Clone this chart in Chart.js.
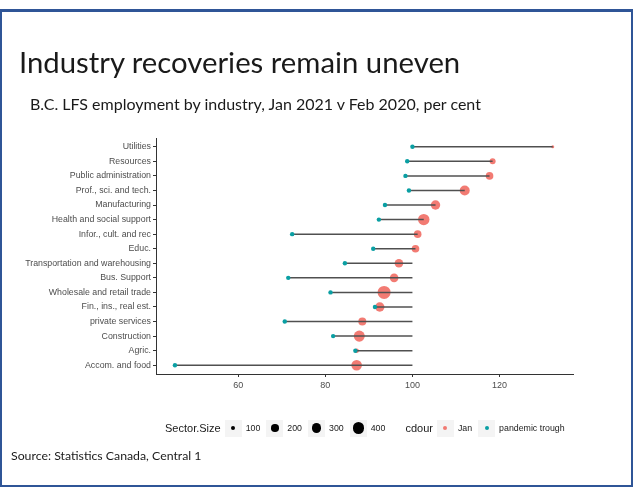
<!DOCTYPE html>
<html>
<head>
<meta charset="utf-8">
<script src="https://cdn.jsdelivr.net/npm/chart.js@4"></script>
<style>
  html, body { margin:0; padding:0; background:#fff; }
  #wrap { position:relative; width:633px; height:487px; overflow:hidden; background:#fff; }
  #frame { position:absolute; left:0; top:9px; width:633px; height:478px; box-sizing:border-box; border:2px solid #2f5597; border-top-width:3px; }
  #c { position:absolute; left:0; top:0; }
  .txt { position:absolute; white-space:nowrap; color:#1a1a1a; }
  #title { left:19px; top:44px; font-family:"Lato","Open Sans",sans-serif; font-size:29.3px; font-weight:400; }
  #sub { left:30px; top:94px; font-family:"Lato","Open Sans",sans-serif; font-size:16px; }
  #src { left:11px; top:448px; font-family:"Lato","Open Sans",sans-serif; font-size:12.3px; }
  #legend { position:absolute; left:165px; top:419px; height:18px; display:flex; align-items:center; font-family:"Liberation Sans",Arial,sans-serif; color:#1a1a1a; }
  #legend .ttl { font-size:11px; margin-right:4px; }
  #legend .key { width:17px; height:17px; background:#f4f4f4; display:flex; align-items:center; justify-content:center; margin-right:4px; }
  #legend .dot { border-radius:50%; background:#000; }
  #legend .lab { font-size:8.8px; margin-right:6px; }
</style>
</head>
<body>
<div id="wrap">
  <div id="frame"></div>
  <canvas id="c" width="633" height="487"></canvas>
  <div class="txt" id="title">Industry recoveries remain uneven</div>
  <div class="txt" id="sub">B.C. LFS employment by industry, Jan 2021 v Feb 2020, per cent</div>
  <div class="txt" id="src">Source: Statistics Canada, Central 1</div>
  <div id="legend"></div>
</div>
<script>
const categories = ['Utilities','Resources','Public administration','Prof., sci. and tech.','Manufacturing','Health and social support','Infor., cult. and rec','Educ.','Transportation and warehousing','Bus. Support','Wholesale and retail trade','Fin., ins., real est.','private services','Construction','Agric.','Accom. and food'];
const janValues = [132.2,118.4,117.7,112.0,105.3,102.6,101.2,100.7,96.9,95.8,93.5,92.5,88.5,87.8,87.2,87.2];
const troughValues = [100.0,98.8,98.4,99.2,93.7,92.3,72.4,91.0,84.5,71.5,81.2,91.4,70.7,81.8,86.9,45.5];
const sectorSizes = [72,145,204,319,287,400,204,204,248,248,506,287,221,376,100,352];
const xTicks = [60,80,100,120];
const sizeLegend = [100,200,300,400];
const colourLegend = ['Jan','pandemic trough'];

const JAN_COL = 'rgba(240,100,90,0.85)';
const TROUGH_COL = '#0a9fa3';
function sizeToRadius(s){ return Math.sqrt(Math.max(0.0922*s - 4.38, 1.5)); }

const datasets = [];
datasets.push({
  type:'scatter', label:'Jan', order:3,
  data: categories.map((c,i)=>({x:janValues[i], y:i})),
  backgroundColor: JAN_COL, borderWidth:0,
  pointRadius: sectorSizes.map(sizeToRadius), pointHoverRadius: sectorSizes.map(sizeToRadius)
});
categories.forEach((c,i)=>{
  datasets.push({
    type:'line', label:'seg'+i, order:2,
    data:[{x:troughValues[i], y:i},{x:Math.max(janValues[i],100), y:i}],
    borderColor:'#505050', borderWidth:1.5, pointRadius:0, fill:false
  });
});
datasets.push({
  type:'scatter', label:'pandemic trough', order:1,
  data: categories.map((c,i)=>({x:troughValues[i], y:i})),
  backgroundColor: TROUGH_COL, borderWidth:0, pointRadius:2.2
});

new Chart(document.getElementById('c'), {
  type:'scatter',
  data:{ datasets },
  options:{
    responsive:false, animation:false, devicePixelRatio:1,
    clip:false,
    layout:{ padding:{ top:138, right:60, bottom:87, left:0 } },
    plugins:{ legend:{display:false}, tooltip:{enabled:false} },
    scales:{
      x:{
        type:'linear', min:41.15, max:136.85,
        afterBuildTicks: s => { s.ticks = xTicks.map(v=>({value:v})); },
        afterFit: s => { s.height = 26; },
        grid:{ display:true, drawOnChartArea:false, drawTicks:true, tickLength:3, tickColor:'#333', color:'#333' },
        border:{ display:true, color:'#333', width:1 },
        ticks:{ color:'#4d4d4d', font:{family:'"Liberation Sans", Arial, sans-serif', size:9}, padding:3, maxRotation:0 }
      },
      y:{
        type:'linear', min:-0.6, max:15.6, reverse:true,
        afterBuildTicks: s => { s.ticks = categories.map((c,i)=>({value:i})); },
        afterFit: s => { s.width = 156; },
        grid:{ display:true, drawOnChartArea:false, drawTicks:true, tickLength:3, tickColor:'#333', color:'#333' },
        border:{ display:true, color:'#333', width:1 },
        ticks:{ color:'#4d4d4d', font:{family:'"Liberation Sans", Arial, sans-serif', size:8.8}, padding:2,
          callback: v => categories[v] }
      }
    }
  }
});

// legend
const lg = document.getElementById('legend');
let html = '<span class="ttl">Sector.Size</span>';
sizeLegend.forEach(s=>{
  const d = 2*sizeToRadius(s);
  html += `<span class="key"><span class="dot" style="width:${d}px;height:${d}px"></span></span><span class="lab">${s}</span>`;
});
html += '<span class="ttl" style="margin-left:14px">cdour</span>';
const cols = [JAN_COL, TROUGH_COL];
colourLegend.forEach((n,k)=>{
  html += `<span class="key"><span class="dot" style="width:4px;height:4px;background:${cols[k]}"></span></span><span class="lab">${n}</span>`;
});
lg.innerHTML = html;
</script>
</body>
</html>
